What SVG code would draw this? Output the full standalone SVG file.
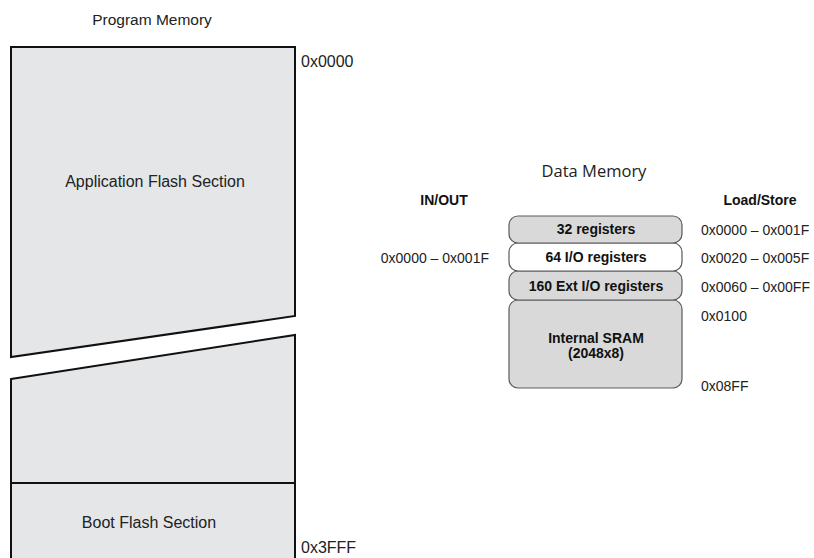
<svg xmlns="http://www.w3.org/2000/svg" width="814" height="558" viewBox="0 0 814 558">
  <style>
    .flash { fill: #e4e6e8; stroke: #111; stroke-width: 2; stroke-linejoin: miter; }
    .divider { stroke: #111; stroke-width: 2; fill: none; }
    .reg { fill: #d9d9d9; stroke: #5a5a5a; stroke-width: 1.2; }
    .reg.io { fill: #ffffff; }
    .t { font-family: "Liberation Sans", Arial, sans-serif; fill: #222; }
    .title { font-size: 15.5px; }
    .sec { font-size: 16px; text-anchor: middle; }
    .addr { font-size: 16px; }
    .dlabel { font-size: 14px; font-weight: bold; text-anchor: middle; fill: #111; }
    .daddr { font-size: 14px; }
    .head { font-size: 14px; font-weight: bold; text-anchor: middle; fill: #111; }
    .dtitle { font-family: "Open Sans", "Liberation Sans", sans-serif; font-size: 16.5px; text-anchor: middle; fill: #222; }
  </style>

  <!-- Program memory map -->
  <g id="program-memory">
    <text class="t title" x="152" y="25" text-anchor="middle">Program Memory</text>
  </g>
  <g id="app-flash">
    <polygon class="flash" points="11,47 295,47 295,316 11,357"/>
    <text class="t sec" x="155" y="187">Application Flash Section</text>
    <text class="t addr" x="301" y="67">0x0000</text>
  </g>
  <g id="app-flash-tail">
    <polygon class="flash" points="11,379 295,335 295,570 11,570"/>
  </g>
  <g id="boot-flash">
    <line class="divider" x1="11" y1="483" x2="295" y2="483"/>
    <text class="t sec" x="149" y="528">Boot Flash Section</text>
    <text class="t addr" x="301" y="553">0x3FFF</text>
  </g>

  <!-- Data memory map -->
  <g id="data-memory">
    <text class="dtitle" x="594" y="177">Data Memory</text>
    <text class="t head" x="444" y="205">IN/OUT</text>
    <text class="t head" x="760" y="205">Load/Store</text>
  </g>
  <g id="sram">
    <rect class="reg" x="509" y="300" width="173" height="88" rx="9"/>
    <text class="t dlabel" x="596" y="343">Internal SRAM</text>
    <text class="t dlabel" x="596" y="358">(2048x8)</text>
    <text class="t daddr" x="701" y="321">0x0100</text>
    <text class="t daddr" x="701" y="391">0x08FF</text>
  </g>
  <g id="ext-io-registers">
    <rect class="reg" x="509" y="271" width="173" height="29" rx="9"/>
    <text class="t dlabel" x="596" y="291">160 Ext I/O registers</text>
    <text class="t daddr" x="701" y="292">0x0060 – 0x00FF</text>
  </g>
  <g id="io-registers">
    <rect class="reg io" x="509" y="243" width="173" height="28" rx="9"/>
    <text class="t dlabel" x="596" y="262">64 I/O registers</text>
    <text class="t daddr" x="701" y="263">0x0020 – 0x005F</text>
    <text class="t daddr" x="489" y="263" text-anchor="end">0x0000 – 0x001F</text>
  </g>
  <g id="gp-registers">
    <rect class="reg" x="509" y="216" width="173" height="27" rx="9"/>
    <text class="t dlabel" x="596" y="234">32 registers</text>
    <text class="t daddr" x="701" y="235">0x0000 – 0x001F</text>
  </g>
</svg>
